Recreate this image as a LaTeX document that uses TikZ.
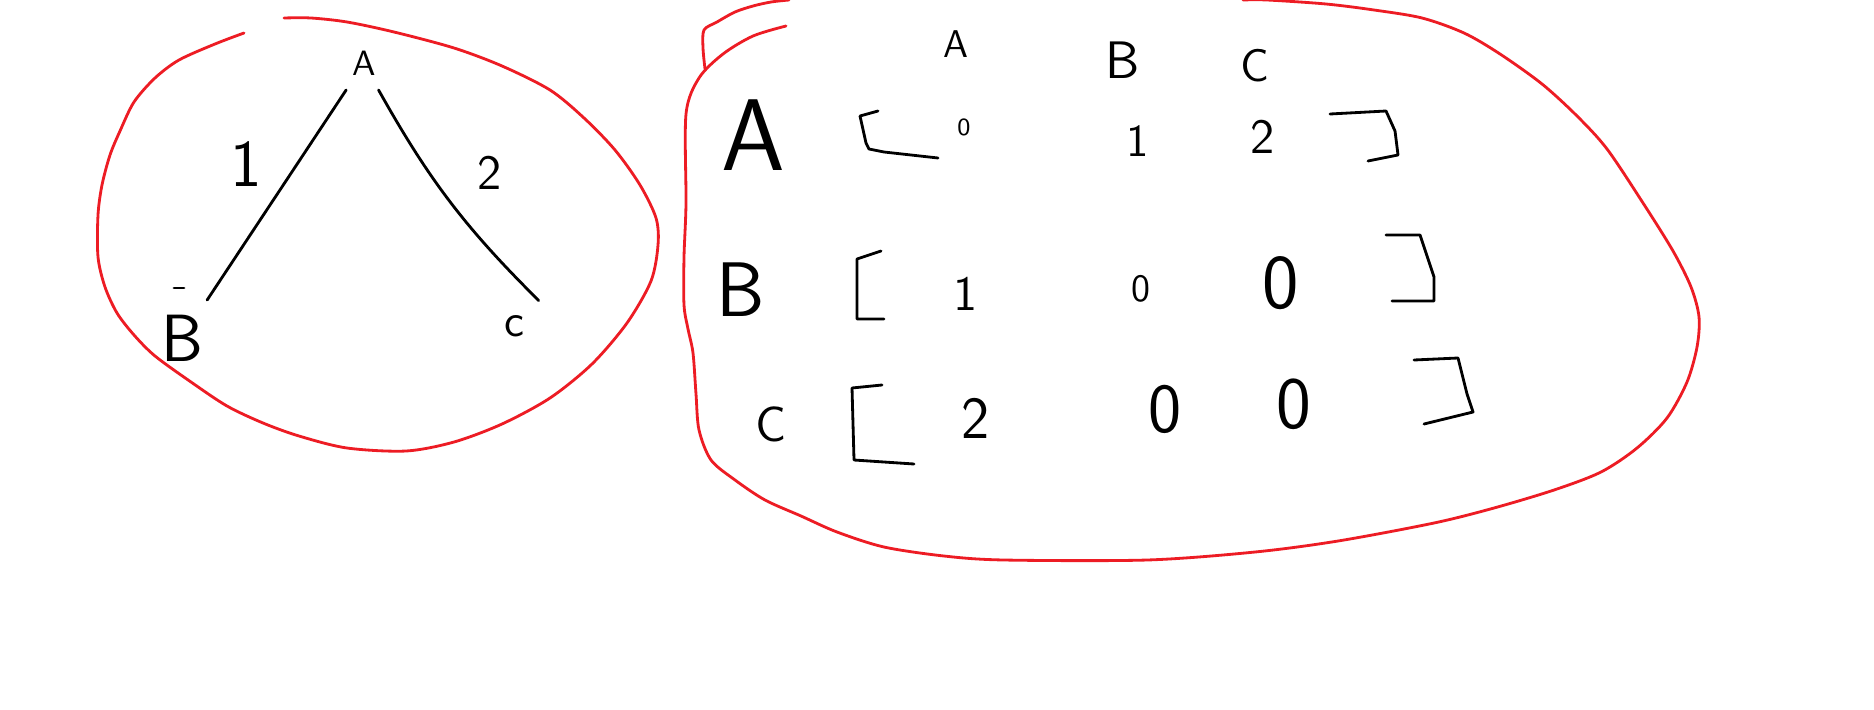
\documentclass[tikz,border=0pt]{standalone}
\usepackage{tikz}
\usetikzlibrary{positioning}
\usepackage{xcolor}
\definecolor{paintred}{RGB}{237,28,36}
\tikzset{%
	sketch/.style={
		draw=paintred,
		line width=0.8pt,
		line join=round,
		line cap=round
	},
	ink/.style={
		draw=black,
		line width=0.8pt,
		line join=round,
		line cap=round
	},
	letter/.style={
		inner sep=0pt,
		font=\sffamily\fontsize{#1}{#1}\selectfont
	},
	tree letter/.style={
		letter=#1,
		inner sep=4pt
	},
}

\begin{document}
\begin{tikzpicture}[x=0.01cm,y=-0.01cm]
			\fill[white] (0,0) rectangle (1874,709);
			\useasboundingbox (0,0) rectangle (1874,709);
			
			% Draw the ring round the tree
			\draw[sketch] plot[smooth] coordinates {(244,33) (215,44) (179,60) (155,78) (134,102) (120,131) (110,155) (102,185) (98,215) (98,257) (105,287) (117,313) (134,335) (155,356) (191,382) (227,406) (263,423) (299,436) (347,448) (406,451) (454,442) (502,424) (550,398) (592,364) (627,323) (651,281) (658,245) (656,218) (640,185) (615,150) (584,118) (550,90) (502,66) (454,48) (394,32) (347,22) (311,18) (284,18)};
			
			% Draw the tree
			\node[tree letter=10] (tA) at (364,63) {A};
			\node[tree letter=19] (tB) at (182,338) {B};
			\node[tree letter=13] (tC) at (514,326) {c};
			\draw[ink] (tA) -- (tB);
			\draw[ink] (tA) to[bend right=8] (tC.north east);
			\node[letter=19] (wAB) at (246,164) {1};
			\node[letter=14] (wAC) at (490,173) {2};
			\draw[ink] (174,288) -- (184,288);
			
			% Draw the blob round the matrix
			\draw[sketch] plot[smooth] coordinates {(705,69) (703,48) (704,30) (717,22) (735,12) (753,6) (771,2) (789,0)};
			\draw[sketch] plot[smooth] coordinates {(786,26) (753,36) (723,54) (699,78) (686,114) (686,203) (684,257) (684,305) (688,329) (693,353) (696,394) (699,430) (711,460) (735,480) (765,500) (801,516) (837,532) (884,547) (944,556) (1004,560) (1147,560) (1255,552) (1338,541) (1434,523) (1494,508) (1554,490) (1601,472) (1637,448) (1667,418) (1687,382) (1697,347) (1699,317) (1691,287) (1673,251) (1643,203) (1607,149) (1577,116) (1542,84) (1500,54) (1464,33) (1422,18) (1374,10) (1326,4) (1267,0) (1243,0)};
			
			% Column and row headers
			\node[letter=11] (colA) at (956,44) {A};
			\node[letter=15] (colB) at (1123,60) {B};
			\node[letter=13] (colC) at (1255,66) {C};
			\node[letter=29] (rowA) at (753,135) {A};
			\node[letter=22] (rowB) at (741,290) {B};
			\node[letter=14] (rowC) at (771,424) {C};
			
			% Matrix entries
			\node[letter=7] (mAA) at (964,127) {0};
			\node[letter=13] (mAB) at (1138,141) {1};
			\node[letter=14] (mAC) at (1263,137) {2};
			\node[letter=14] (mBA) at (966,294) {1};
			\node[letter=11] (mBB) at (1141,289) {0};
			\node[letter=22] (mBC) at (1281,283) {0};
			\node[letter=17] (mCA) at (976,418) {2};
			\node[letter=20] (mCB) at (1165,409) {0};
			\node[letter=21] (mCC) at (1294,404) {0};
			
			% Brackets
			\draw[ink] (878,111) -- (860,116) -- (866,143) -- (869,149) -- (884,152) -- (938,158);
			\draw[ink] (1330,114) -- (1386,111) -- (1395,131) -- (1398,155) -- (1368,161);
			\draw[ink] (881,251) -- (857,259) -- (857,319) -- (884,319);
			\draw[ink] (1386,235) -- (1420,235) -- (1434,277) -- (1434,301) -- (1392,301);
			\draw[ink] (882,385) -- (852,388) -- (854,460) -- (914,464);
			\draw[ink] (1414,360) -- (1458,358) -- (1467,394) -- (1473,412) -- (1424,424);
			
\end{tikzpicture}
\end{document}
